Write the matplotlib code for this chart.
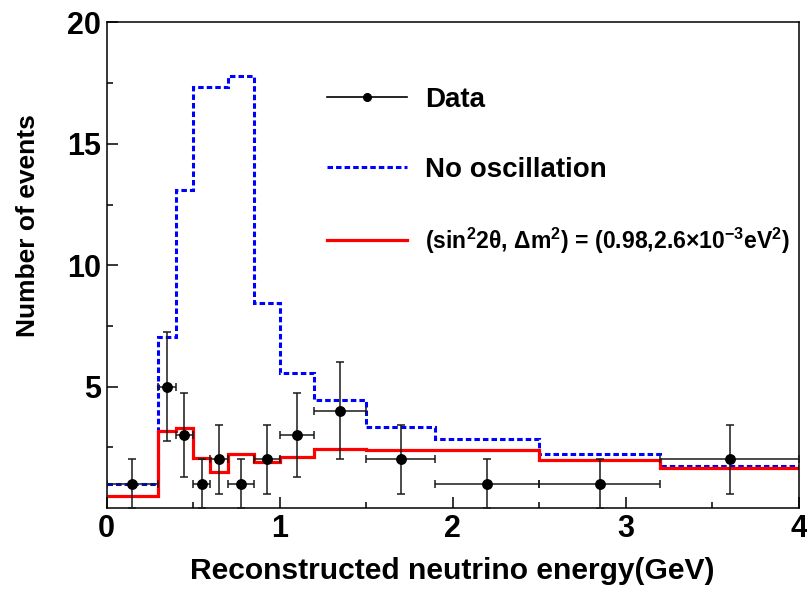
import numpy as np
import matplotlib
matplotlib.use("Agg")
import matplotlib.pyplot as plt
from matplotlib.lines import Line2D

plt.rcParams["font.family"] = ["Liberation Sans", "DejaVu Sans"]
plt.rcParams["font.weight"] = "bold"
plt.rcParams["mathtext.fontset"] = "custom"
plt.rcParams["mathtext.rm"] = "Liberation Sans:bold"
plt.rcParams["mathtext.it"] = "Liberation Sans:bold"
plt.rcParams["mathtext.bf"] = "Liberation Sans:bold"

# Energy bin edges (GeV)
bin_edges = [0.0, 0.3, 0.4, 0.5, 0.6, 0.7, 0.85, 1.0, 1.2, 1.5, 1.9, 2.5, 3.2, 4.0]

# Expected events without oscillation
no_osc = [0.98, 7.06, 13.1, 17.35, 17.35, 17.79, 8.46, 5.58, 4.44, 3.34, 2.86, 2.24, 1.74]

# Best-fit oscillation expectation
best_fit = [0.51, 3.17, 3.28, 2.05, 1.50, 2.21, 1.91, 2.12, 2.45, 2.40, 2.40, 1.96, 1.66]

# Observed events per bin
observed = [1, 5, 3, 1, 2, 1, 2, 3, 4, 2, 1, 1, 2]

x_ticks = [0, 1, 2, 3, 4]
y_ticks = [5, 10, 15, 20]

edges = np.array(bin_edges)
centers = 0.5 * (edges[:-1] + edges[1:])
half_w = 0.5 * np.diff(edges)
counts = np.array(observed, dtype=float)

fig = plt.figure(figsize=(8.07, 5.91), dpi=100)
ax = fig.add_axes([0.132, 0.1404, 0.858, 0.8216])

ax.stairs(no_osc, edges, baseline=None, color="#0000ff", lw=2.2,
          linestyle=(0, (1.8, 1.0)))
ax.stairs(best_fit, edges, baseline=None, color="#ff0000", lw=2.3)

ax.errorbar(centers, counts, xerr=half_w, yerr=np.sqrt(counts), fmt="o",
            color="black", ecolor="#1a1a1a", elinewidth=1.1, capsize=2.8,
            capthick=1.1, ms=6.8, zorder=5)

ax.set_xlim(0, 4)
ax.set_ylim(0, 20)
ax.set_xticks(x_ticks)
ax.set_xticks(np.arange(0.5, 4.0, 1.0), minor=True)
ax.set_yticks(y_ticks)
ax.set_yticks([2.5, 7.5, 12.5, 17.5], minor=True)
ax.tick_params(which="both", direction="in", top=False, right=False,
               width=1.1, labelsize=22)
ax.tick_params(which="major", length=8, pad=4)
ax.tick_params(which="minor", length=4.3)
for sp in ax.spines.values():
    sp.set_linewidth(1.1)

ax.set_xlabel("Reconstructed neutrino energy(GeV)", fontsize=21.6,
              fontweight="bold", labelpad=10)
ax.set_ylabel("Number of events", fontsize=19, fontweight="bold")
ax.yaxis.set_label_coords(-0.096, 0.581)

handles = [
    Line2D([0], [0], color="black", lw=1.2, marker="o", ms=5.5),
    Line2D([0], [0], color="#0000ff", lw=2.2, linestyle=(0, (1.8, 1.0))),
    Line2D([0], [0], color="#ff0000", lw=2.3),
]
labels = [
    "Data",
    "No oscillation",
    r"(sin$^{2}$2θ, Δm$^{2}$) = (0.98,2.6×10$^{-3}$eV$^{2}$)",
]
leg = ax.legend(handles, labels, loc="upper left",
                bbox_to_anchor=(0.318, 0.867), frameon=False, numpoints=1,
                handlelength=2.9, handletextpad=0.65, labelspacing=1.57,
                borderpad=0, borderaxespad=0, fontsize=20)
leg.get_texts()[2].set_fontsize(16.6)

fig.savefig("out.png", dpi=100)
